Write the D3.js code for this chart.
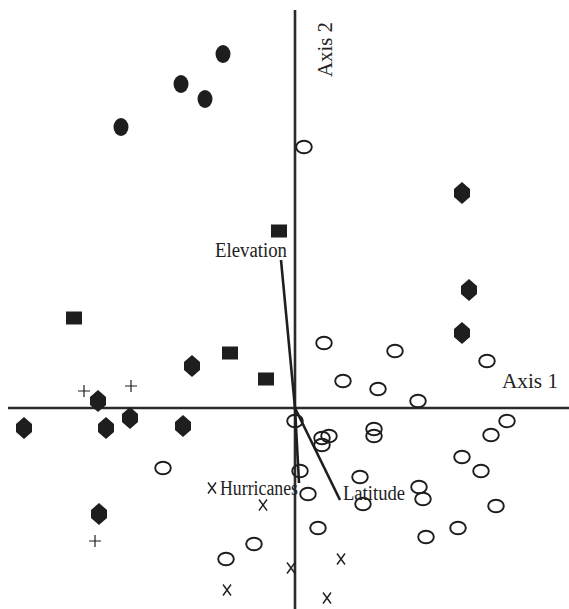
<!DOCTYPE html>
<html>
<head>
<meta charset="utf-8">
<script src="https://cdn.jsdelivr.net/npm/d3@7"></script>
<style>
  body { margin: 0; background: #fff; }
  svg { display: block; }
  text { font-family: "Liberation Serif", "Times New Roman", serif; fill: #222; }
</style>
</head>
<body>
<svg id="drawing_region"></svg>
<script>
// site scores on the two ordination axes
const groupEllipse = [[-0.72, 3.54], [-1.14, 3.24], [-0.90, 3.09], [-1.74, 2.81]];
const groupSquare = [[-0.16, 1.77], [-2.21, 0.90], [-0.65, 0.55], [-0.29, 0.29]];
const groupDiamond = [[1.67, 2.15], [1.74, 1.18], [1.67, 0.75], [-1.03, 0.42], [-1.97, 0.07],
                      [-1.65, -0.10], [-2.71, -0.20], [-1.89, -0.20], [-1.12, -0.18], [-1.96, -1.06]];
const groupPlus = [[-2.11, 0.17], [-1.64, 0.22], [-2.00, -1.33]];
const groupCross = [[-0.83, -0.80], [-0.32, -0.97], [-0.04, -1.60], [0.46, -1.51], [-0.68, -1.82], [0.32, -1.90]];
const groupCircle = [[0.09, 2.61], [0.29, 0.65], [1.00, 0.57], [1.92, 0.47], [0.48, 0.27], [0.83, 0.19],
                     [1.23, 0.07], [0.00, -0.13], [2.12, -0.13], [1.96, -0.27], [0.34, -0.28], [0.27, -0.30],
                     [0.27, -0.37], [0.79, -0.21], [0.79, -0.28], [1.67, -0.49], [1.86, -0.63], [0.05, -0.63],
                     [0.65, -0.69], [1.24, -0.79], [0.13, -0.86], [1.28, -0.91], [0.68, -0.96], [2.01, -0.98],
                     [0.23, -1.20], [1.63, -1.20], [1.31, -1.29], [-1.32, -0.60], [-0.41, -1.36], [-0.69, -1.51]];

// environmental vectors
const vectorNames = ["Elevation", "Hurricanes", "Latitude"];
const vectorEnds = [[-0.14, 1.48], [0.04, -0.75], [0.45, -0.92]];

const xDomain = [-2.87, 2.74];
const yDomain = [-2.01, 3.98];

const width = 569, height = 609;
const svg = d3.select("#drawing_region").attr("width", width).attr("height", height);

const x = d3.scaleLinear().domain(xDomain).range([8, 569]);
const y = d3.scaleLinear().domain(yDomain).range([609, 10]);

const ink = "#1e1e1e";

// axes through the origin
svg.append("line")
    .attr("x1", x(xDomain[0])).attr("x2", x(xDomain[1]))
    .attr("y1", y(0)).attr("y2", y(0))
    .attr("stroke", "#2a2a2a").attr("stroke-width", 2.6);
svg.append("line")
    .attr("x1", x(0)).attr("x2", x(0))
    .attr("y1", y(yDomain[0])).attr("y2", y(yDomain[1]))
    .attr("stroke", "#2a2a2a").attr("stroke-width", 2.6);

svg.append("text")
    .attr("x", 502).attr("y", 388)
    .attr("textLength", 56).attr("lengthAdjust", "spacingAndGlyphs")
    .style("font-size", "21px")
    .text("Axis 1");
svg.append("text")
    .attr("transform", "translate(332,77) rotate(-90)")
    .attr("textLength", 55).attr("lengthAdjust", "spacingAndGlyphs")
    .style("font-size", "21px")
    .text("Axis 2");

// vectors
svg.selectAll(".vec")
    .data(vectorEnds)
    .join("line")
    .attr("class", "vec")
    .attr("x1", x(0)).attr("y1", y(0))
    .attr("x2", d => x(d[0])).attr("y2", d => y(d[1]))
    .attr("stroke", ink).attr("stroke-width", 2.6);

// open circles
svg.selectAll(".circ")
    .data(groupCircle)
    .join("ellipse")
    .attr("class", "circ")
    .attr("cx", d => x(d[0])).attr("cy", d => y(d[1]))
    .attr("rx", 7.8).attr("ry", 6.2)
    .attr("fill", "none")
    .attr("stroke", ink).attr("stroke-width", 1.9);

// filled ellipses
svg.selectAll(".ell")
    .data(groupEllipse)
    .join("ellipse")
    .attr("class", "ell")
    .attr("cx", d => x(d[0])).attr("cy", d => y(d[1]))
    .attr("rx", 7.5).attr("ry", 9)
    .attr("fill", ink);

// filled squares
svg.selectAll(".sq")
    .data(groupSquare)
    .join("rect")
    .attr("class", "sq")
    .attr("x", d => x(d[0]) - 8).attr("y", d => y(d[1]) - 6.5)
    .attr("width", 16).attr("height", 13)
    .attr("fill", ink);

// filled diamonds
const diamond = "M0,-11L8,-4L8,4L0,11L-8,4L-8,-4Z";
svg.selectAll(".dia")
    .data(groupDiamond)
    .join("path")
    .attr("class", "dia")
    .attr("transform", d => "translate(" + x(d[0]) + "," + y(d[1]) + ")")
    .attr("d", diamond)
    .attr("fill", ink);

// plus signs
svg.selectAll(".plus")
    .data(groupPlus)
    .join("path")
    .attr("class", "plus")
    .attr("transform", d => "translate(" + x(d[0]) + "," + y(d[1]) + ")")
    .attr("d", "M-6,0H6M0,-6V6")
    .attr("stroke", ink).attr("stroke-width", 1.2);

// crosses
svg.selectAll(".cross")
    .data(groupCross)
    .join("path")
    .attr("class", "cross")
    .attr("transform", d => "translate(" + x(d[0]) + "," + y(d[1]) + ")")
    .attr("d", "M-4,-5.5L4,5.5M4,-5.5L-4,5.5")
    .attr("stroke", ink).attr("stroke-width", 1.4);

// vector labels
svg.append("text")
    .attr("x", 287).attr("y", 257)
    .attr("text-anchor", "end")
    .attr("textLength", 72).attr("lengthAdjust", "spacingAndGlyphs")
    .style("font-size", "20px")
    .text(vectorNames[0]);
svg.append("text")
    .attr("x", 220).attr("y", 495)
    .attr("textLength", 78).attr("lengthAdjust", "spacingAndGlyphs")
    .style("font-size", "20px")
    .text(vectorNames[1]);
svg.append("text")
    .attr("x", 343).attr("y", 500)
    .attr("textLength", 62).attr("lengthAdjust", "spacingAndGlyphs")
    .style("font-size", "20px")
    .text(vectorNames[2]);
</script>
</body>
</html>
